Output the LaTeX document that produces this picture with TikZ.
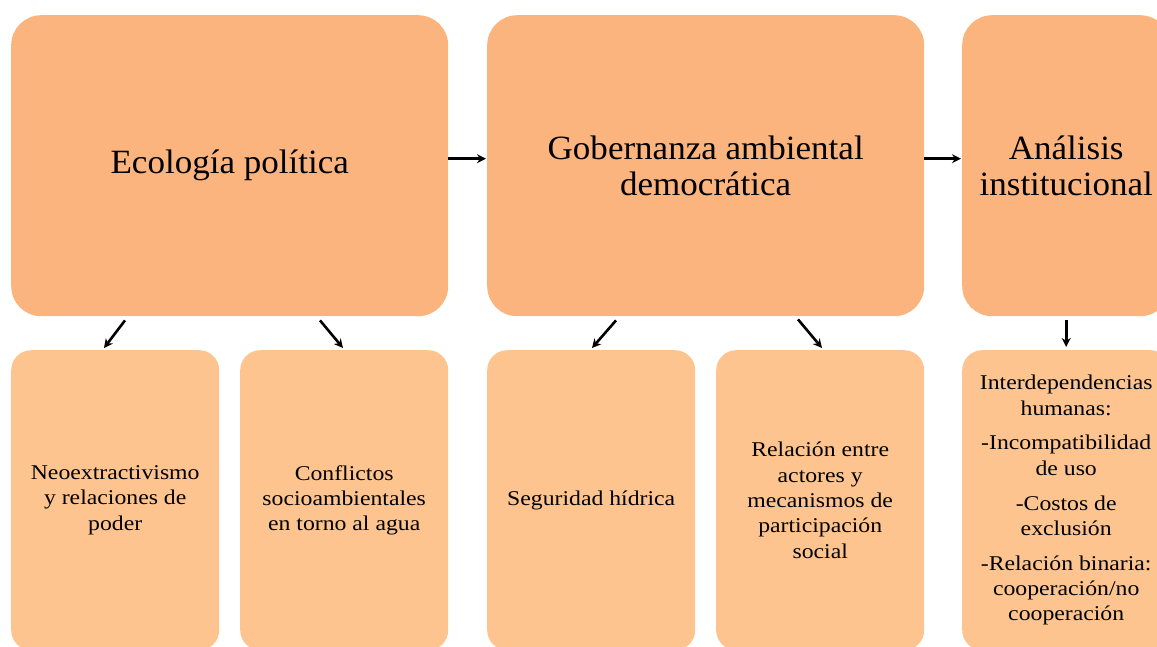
\documentclass[tikz,border=0pt]{standalone}
\usepackage{fontspec}
\setmainfont{Liberation Serif}
\newfontfamily\botfont[FakeStretch=1.13]{Liberation Serif}
\newfontfamily\topfont[FakeStretch=1.03]{Liberation Serif}
\usetikzlibrary{arrows.meta}
\definecolor{topfill}{RGB}{252,180,127}
\definecolor{botfill}{RGB}{253,196,143}
\tikzset{
  x=1pt, y=-1pt,
  topbox/.style={fill=topfill, draw=none, rounded corners=30pt, anchor=north west,
    minimum width=437pt, minimum height=301pt, align=center, inner sep=0pt,
    font=\topfont\fontsize{34}{36.5}\selectfont},
  botbox/.style={fill=botfill, draw=none, rounded corners=20pt, anchor=north west,
    minimum width=208pt, minimum height=300pt, align=center, inner sep=0pt,
    font=\botfont\fontsize{21}{25.3}\selectfont},
  arr/.style={draw=black, line width=2.6pt, -{Stealth[length=9pt,width=9pt]}},
}
\begin{document}
\begin{tikzpicture}
\useasboundingbox (0,0) rectangle (1157,646);
\clip (0,0) rectangle (1157,646);
\node[topbox] (t1) at (11,15) {Ecología política};
\node[topbox] (t2) at (487,15) {Gobernanza ambiental\\democrática};
\node[topbox, minimum width=208pt] (t3) at (962,15) {Análisis\\institucional};
\node[botbox] (b1) at (11,350) {Neoextractivismo\\y relaciones de\\poder};
\node[botbox] (b2) at (240,350) {Conflictos\\socioambientales\\en torno al agua};
\node[botbox] (b3) at (487,350) {Seguridad hídrica};
\node[botbox] (b4) at (716,350) {Relación entre\\actores y\\mecanismos de\\participación\\social};
\node[botbox] (b5) at (962,350) {Interdependencias\\humanas:\\[9.5pt]-Incompatibilidad\\de uso\\[9.5pt]-Costos de\\exclusión\\[9.5pt]-Relación binaria:\\cooperación/no\\cooperación};
\draw[arr] ([yshift=7pt]t1.east) -- ([yshift=7pt,xshift=-1pt]t2.west);
\draw[arr] ([yshift=7pt]t2.east) -- ([yshift=7pt,xshift=-1pt]t3.west);
\draw[arr] ([xshift=114pt,yshift=-4pt]t1.south west) -- ([xshift=93pt,yshift=2pt]b1.north west);
\draw[arr] ([xshift=309pt,yshift=-4pt]t1.south west) -- ([xshift=103pt,yshift=2pt]b2.north west);
\draw[arr] ([xshift=129pt,yshift=-4pt]t2.south west) -- ([xshift=105pt,yshift=2pt]b3.north west);
\draw[arr] ([xshift=311pt,yshift=-3pt]t2.south west) -- ([xshift=106pt,yshift=2pt]b4.north west);
\draw[arr] ([yshift=-4pt]t3.south) -- ([yshift=3pt]b5.north);
\end{tikzpicture}
\end{document}
